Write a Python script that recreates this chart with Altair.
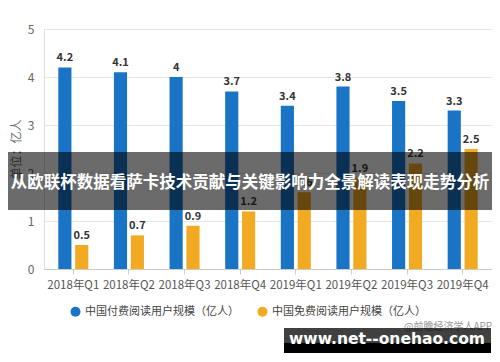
import altair as alt
import pandas as pd

quarters = ["2018年Q1", "2018年Q2", "2018年Q3", "2018年Q4", "2019年Q1", "2019年Q2", "2019年Q3", "2019年Q4"]
series_names = ["中国付费阅读用户规模（亿人）", "中国免费阅读用户规模（亿人）"]
paid = [4.2, 4.1, 4.0, 3.7, 3.4, 3.8, 3.5, 3.3]
free = [0.5, 0.7, 0.9, 1.2, 1.6, 1.9, 2.2, 2.5]
colors = ["#1a74c6", "#f2aa22"]
y_ticks = [0, 1, 2, 3, 4, 5]
banner_text = "从欧联杯数据看萨卡技术贡献与关键影响力全景解读表现走势分析"
mark_text_str = "www.net--onehao.com"
source_text = "@前瞻经济学人APP"

rows = []
for q, p, f in zip(quarters, paid, free):
    rows.append({"quarter": q, "series": series_names[0], "value": p})
    rows.append({"quarter": q, "series": series_names[1], "value": f})
df = pd.DataFrame(rows)

FONT = "Noto Sans CJK SC"
W, H = 448, 240

x_enc = alt.X("quarter:N", sort=quarters, title=None,
              scale=alt.Scale(paddingInner=0.46, paddingOuter=0.257),
              axis=alt.Axis(labelAngle=0, labelFontSize=11.5, labelColor="#555555",
                            labelFont=FONT, domainColor="#cccccc", tickColor="#cccccc",
                            tickSize=5, labelPadding=5, grid=False))
xo_enc = alt.XOffset("series:N", sort=series_names, scale=alt.Scale(paddingInner=0.22))
y_enc = alt.Y("value:Q", title="单位：亿人",
              scale=alt.Scale(domain=[0, 5], nice=False),
              axis=alt.Axis(values=y_ticks, domain=False, ticks=False, labelFontSize=12,
                            labelColor="#666666", labelFont=FONT, labelPadding=10,
                            gridColor="#e6e6e6", titleFont=FONT, titleFontSize=12,
                            titleFontWeight="normal", titleColor="#666666", titlePadding=4))
color_enc = alt.Color("series:N", sort=series_names,
                      scale=alt.Scale(domain=series_names, range=colors),
                      legend=alt.Legend(title=None, orient="none", legendX=26, legendY=277,
                                        direction="horizontal", symbolType="circle",
                                        symbolSize=100, symbolStrokeWidth=0,
                                        labelFontSize=11, labelColor="#444444", labelFont=FONT,
                                        columnPadding=18, labelLimit=300, symbolOffset=0))

bars = alt.Chart(df).mark_bar().encode(x=x_enc, xOffset=xo_enc, y=y_enc, color=color_enc)
labels = alt.Chart(df).mark_text(baseline="bottom", dy=-4, fontSize=11, fontWeight="bold",
                                 color="#333333", font=FONT).encode(
    x=alt.X("quarter:N", sort=quarters), xOffset=alt.XOffset("series:N", sort=series_names),
    y="value:Q", text="value:Q")

ov = pd.DataFrame({"t": [banner_text]})
band = alt.Chart(ov).mark_rect(color="#000000", opacity=0.58, clip=False).encode(
    x=alt.value(-40), x2=alt.value(460), y=alt.value(123), y2=alt.value(181))
band_text = alt.Chart(ov).mark_text(color="white", fontSize=16.5, fontWeight="bold", font=FONT,
                                    align="center", baseline="middle").encode(
    x=alt.value(206), y=alt.value(154), text="t:N")

src = alt.Chart(pd.DataFrame({"t": [source_text]})).mark_text(
    color="#999999", fontSize=10, font=FONT, align="left", baseline="middle").encode(
    x=alt.value(360), y=alt.value(298), text="t:N")
wm_box = alt.Chart(ov).mark_rect(color="#000000", opacity=0.75).encode(
    x=alt.value(240), x2=alt.value(447), y=alt.value(299), y2=alt.value(324))
wm_box2 = alt.Chart(ov).mark_rect(color="#000000").encode(
    x=alt.value(240), x2=alt.value(447), y=alt.value(314), y2=alt.value(324))
wm_text = alt.Chart(pd.DataFrame({"t": [mark_text_str]})).mark_text(
    color="white", fontSize=15.5, fontWeight="bold", font="DejaVu Sans", align="center",
    baseline="middle").encode(x=alt.value(343), y=alt.value(310), text="t:N")

chart = alt.layer(bars, labels, band, band_text, src, wm_box, wm_box2, wm_text).properties(
    width=W, height=H,
    autosize=alt.AutoSizeParams(type="none"),
    padding={"left": 36, "top": 21, "right": 0, "bottom": 85},
).configure_view(stroke=None).configure(background="white")

chart.save("out.html", embed_options={"renderer": "svg", "actions": False})
